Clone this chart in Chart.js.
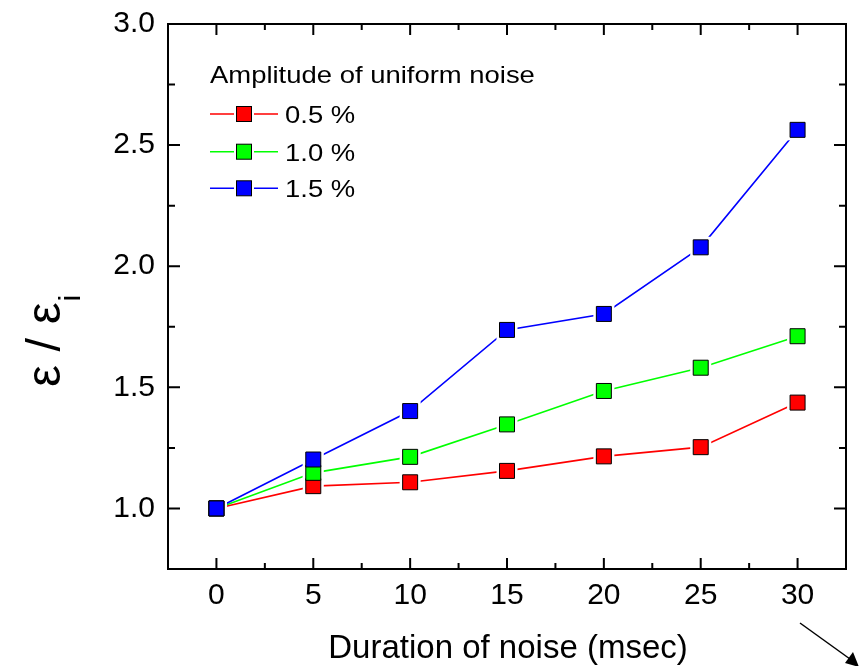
<!DOCTYPE html>
<html>
<head>
<meta charset="utf-8">
<script src="https://cdn.jsdelivr.net/npm/chart.js@4.4.1/dist/chart.umd.min.js"></script>
<style>
  html, body { margin: 0; padding: 0; background: #fff; }
  #wrap { width: 859px; height: 666px; }
</style>
</head>
<body>
<div id="wrap"><canvas id="lineChart" width="859" height="666"></canvas></div>
<script>
// durations of noise (msec)
var durations = [0, 5, 10, 15, 20, 25, 30];
// eps / eps_i for each noise amplitude
var amp05 = [1.000, 1.092, 1.108, 1.155, 1.215, 1.253, 1.437];
var amp10 = [1.000, 1.147, 1.213, 1.347, 1.485, 1.581, 1.711];
var amp15 = [1.000, 1.202, 1.402, 1.737, 1.803, 2.078, 2.563];
var seriesLabels = ["0.5 %", "1.0 %", "1.5 %"];
var seriesColors = ["#ff0000", "#00ff00", "#0000ff"];
var xTicks = [0, 5, 10, 15, 20, 25, 30];
var yTicks = [1.0, 1.5, 2.0, 2.5, 3.0];
var legendTitle = "Amplitude of uniform noise";
var xTitle = "Duration of noise (msec)";

var FONT = "'Liberation Sans', Arial, sans-serif";

function points(ys){
    return durations.map(function(d, i){ return {x: d, y: ys[i]}; });
}

function makeSet(ys, idx){
    return {
        label: seriesLabels[idx],
        data: points(ys),
        borderColor: seriesColors[idx],
        backgroundColor: seriesColors[idx],
        pointBackgroundColor: seriesColors[idx],
        pointBorderColor: "#000",
        pointBorderWidth: 1,
        pointStyle: "rect",
        pointRadius: 10.6,
        borderWidth: 1.6,
        tension: 0,
        order: 2 - idx
    };
}

// white gap round the markers, then markers again on top (red, green, blue)
var markerGap = {
    id: "markerGap",
    afterDatasetsDraw: function(chart){
        var ctx = chart.ctx;
        ctx.save();
        ctx.fillStyle = "#fff";
        chart.data.datasets.forEach(function(ds, i){
            chart.getDatasetMeta(i).data.forEach(function(p){
                ctx.fillRect(p.x - 10.5, p.y - 10.5, 21, 21);
            });
        });
        ctx.restore();
        chart.data.datasets.forEach(function(ds, i){
            chart.getDatasetMeta(i).data.forEach(function(p){
                p.draw(ctx, chart.chartArea);
            });
        });
    }
};

// frame, inward ticks, titles, legend, arrow
var decor = {
    id: "decor",
    afterDatasetsDraw: function(chart){
        var ctx = chart.ctx, a = chart.chartArea;
        var xs = chart.scales.x, ys = chart.scales.y;
        ctx.save();
        ctx.strokeStyle = "#000";
        ctx.lineWidth = 2;
        ctx.strokeRect(a.left, a.top, a.right - a.left, a.bottom - a.top);

        ctx.beginPath();
        for (var v = -2.5; v <= 32.5; v += 2.5) {
            var px = xs.getPixelForValue(v);
            if (px <= a.left + 1 || px >= a.right - 1) continue;
            var len = (v % 5 === 0) ? 11 : 6;
            ctx.moveTo(px, a.bottom); ctx.lineTo(px, a.bottom - len);
            ctx.moveTo(px, a.top); ctx.lineTo(px, a.top + len);
        }
        for (var w = 0.75; w <= 3.0; w += 0.25) {
            var py = ys.getPixelForValue(w);
            if (py <= a.top + 1 || py >= a.bottom - 1) continue;
            var l2 = (Math.abs(w * 2 - Math.round(w * 2)) < 1e-6) ? 12 : 7;
            ctx.moveTo(a.left, py); ctx.lineTo(a.left + l2, py);
            ctx.moveTo(a.right, py); ctx.lineTo(a.right - l2, py);
        }
        ctx.stroke();

        ctx.fillStyle = "#000";
        ctx.textBaseline = "alphabetic";

        // x title
        ctx.font = "33px " + FONT;
        ctx.textAlign = "center";
        ctx.fillText(xTitle, (a.left + a.right) / 2 + 1, 658);

        // y title: eps / eps_i
        ctx.save();
        ctx.translate(60, 387);
        ctx.rotate(-Math.PI / 2);
        ctx.font = "49px " + FONT;
        ctx.textAlign = "left";
        var main = "\u03b5 / \u03b5";
        ctx.fillText(main, 0, 0);
        var mw = ctx.measureText(main).width;
        ctx.font = "30px " + FONT;
        ctx.fillText("i", mw + 1, 20);
        ctx.restore();

        // legend
        var lx = a.left + 42;
        ctx.textAlign = "left";
        ctx.save();
        ctx.translate(lx, 83);
        ctx.scale(1.12, 1);
        ctx.font = "24.5px " + FONT;
        ctx.fillText(legendTitle, 0, 0);
        ctx.restore();
        var rows = [114, 151.7, 188.3];
        for (var i = 0; i < 3; i++) {
            var ry = rows[i];
            ctx.strokeStyle = seriesColors[i];
            ctx.lineWidth = 1.6;
            ctx.beginPath();
            ctx.moveTo(lx, ry); ctx.lineTo(lx + 24, ry);
            ctx.moveTo(lx + 44, ry); ctx.lineTo(lx + 68, ry);
            ctx.stroke();
            ctx.fillStyle = seriesColors[i];
            ctx.fillRect(lx + 26.5, ry - 7.5, 15, 15);
            ctx.strokeStyle = "#000";
            ctx.lineWidth = 1;
            ctx.strokeRect(lx + 26.5, ry - 7.5, 15, 15);
            ctx.fillStyle = "#000";
            ctx.save();
            ctx.translate(lx + 75, ry + 9);
            ctx.scale(1.12, 1);
            ctx.font = "24.5px " + FONT;
            ctx.fillText(seriesLabels[i], 0, 0);
            ctx.restore();
        }

        // stray arrow at the bottom right
        ctx.strokeStyle = "#000";
        ctx.lineWidth = 1.5;
        ctx.beginPath();
        ctx.moveTo(800, 623); ctx.lineTo(850, 659);
        ctx.stroke();
        ctx.beginPath();
        ctx.moveTo(859, 667); ctx.lineTo(845, 663); ctx.lineTo(853, 652);
        ctx.closePath();
        ctx.fill();
        ctx.restore();
    }
};

window.onload = function(){
    var ctx = document.getElementById("lineChart").getContext("2d");
    new Chart(ctx, {
        type: "line",
        data: {
            datasets: [makeSet(amp05, 0), makeSet(amp10, 1), makeSet(amp15, 2)]
        },
        options: {
            responsive: false,
            animation: false,
            devicePixelRatio: 1,
            layout: { padding: { left: 0, top: 24, right: 13, bottom: 0 } },
            plugins: { legend: { display: false }, tooltip: { enabled: false } },
            scales: {
                x: {
                    type: "linear",
                    min: -2.5, max: 32.5,
                    afterBuildTicks: function(s){ s.ticks = xTicks.map(function(v){ return {value: v}; }); },
                    afterFit: function(s){ s.height = 97; s.paddingLeft = 0; s.paddingRight = 0; },
                    grid: { display: false, drawTicks: false },
                    border: { display: false },
                    ticks: {
                        autoSkip: false, maxRotation: 0, padding: 9,
                        color: "#000",
                        font: { family: FONT, size: 30 }
                    }
                },
                y: {
                    type: "linear",
                    min: 0.75, max: 3.0,
                    afterBuildTicks: function(s){ s.ticks = yTicks.map(function(v){ return {value: v}; }); },
                    afterFit: function(s){ s.width = 168; s.paddingTop = 0; s.paddingBottom = 0; },
                    grid: { display: false, drawTicks: false },
                    border: { display: false },
                    ticks: {
                        autoSkip: false, padding: 13,
                        color: "#000",
                        font: { family: FONT, size: 30 },
                        callback: function(v){ return Number(v).toFixed(1); }
                    }
                }
            }
        },
        plugins: [markerGap, decor]
    });
};
</script>
</body>
</html>
